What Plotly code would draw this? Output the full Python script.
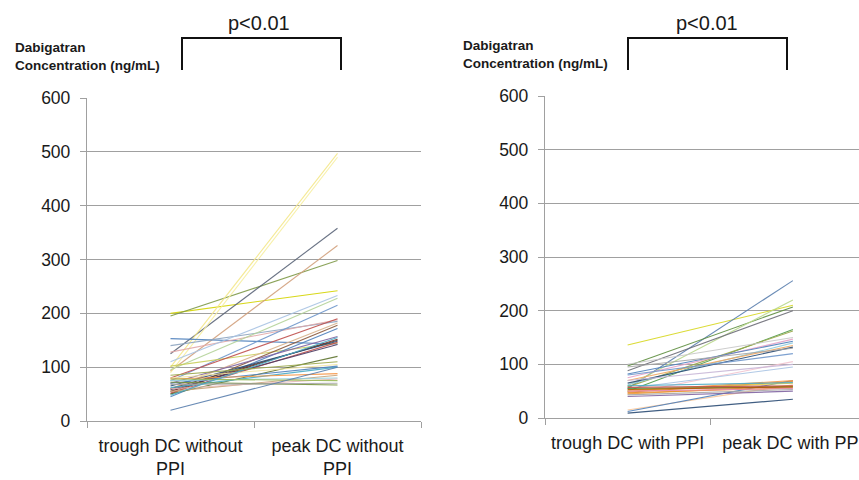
import plotly.graph_objects as go

# ---------------- data ----------------
cats_left = ["trough DC without<br>PPI", "peak DC without<br>PPI"]
cats_right = ["trough DC with PPI", "peak DC with PPI"]
y_ticks = [0, 100, 200, 300, 400, 500, 600]

trough_no_ppi = [200, 195, 125, 93, 100, 90, 153, 140, 128, 110, 95, 75, 102,
                 80, 60, 50, 45, 70, 55, 60, 65, 52, 58, 50, 80, 70, 62, 78,
                 55, 75, 60, 78, 72, 68, 20, 48, 85]
peak_no_ppi = [242, 298, 358, 326, 497, 490, 143, 185, 188, 233, 228, 215, 145,
               190, 182, 178, 172, 157, 152, 150, 148, 146, 142, 120, 105, 102,
               100, 88, 85, 80, 78, 75, 67, 70, 100, 155, 110]

trough_ppi = [136, 55, 97, 60, 88, 50, 58, 100, 75, 82, 62, 70, 65, 95, 80,
              45, 55, 15, 12, 9, 50, 48, 52, 45, 55, 47, 50, 43, 60, 40, 57,
              53, 70]
peak_ppi = [210, 256, 207, 220, 200, 165, 162, 150, 147, 143, 140, 135, 132,
            130, 120, 105, 95, 62, 70, 35, 70, 68, 65, 60, 58, 56, 55, 53, 66,
            50, 60, 58, 100]

# ---------------- styles ----------------
left_colors = ["#D4D400", "#7F9A48", "#5A6478", "#D2A07C", "#F5E88A", "#F7EFA0",
               "#4F81BD", "#8EA5C0", "#E2A8A8", "#A9C4E4", "#B4D39A", "#6F97CC",
               "#C9CF5A", "#C0504D", "#D9B38C", "#8B5A3C", "#4F81BD", "#8064A2",
               "#772C2A", "#5C4033", "#2C4D75", "#C0504D", "#4D3B62", "#5F7530",
               "#F2E6A0", "#4F81BD", "#4BACC6", "#F79646", "#C8A57A", "#93CDDD",
               "#E6B9B8", "#9BBB59", "#77933C", "#A6A6A6", "#5A7FAE", "#4BACC6",
               "#9BA84A"]
right_colors = ["#D8D820", "#5A7FAE", "#5F8F40", "#B8D88A", "#6E6E78", "#4E9A48",
                "#9BA84A", "#C8C8C8", "#E6A3C8", "#4F81BD", "#93CDDD", "#F2A860",
                "#2C4D75", "#A6A6A6", "#6F97CC", "#F2C4D0", "#A9C4E4", "#F9C89B",
                "#4F81BD", "#2C4D75", "#F79646", "#E38A2E", "#E6D04A", "#F2A040",
                "#4E9A48", "#E8922E", "#E88AB0", "#A6A6A6", "#4BACC6", "#8064A2",
                "#C0504D", "#B65708", "#C9B8D8"]

FONT = "Liberation Sans, Arial, sans-serif"
GRID = "#A0A0A0"
TXT = "#1A1A1A"

fig = go.Figure()

for t, p, c in zip(trough_no_ppi, peak_no_ppi, left_colors):
    fig.add_trace(go.Scatter(x=cats_left, y=[t, p], mode="lines",
                             line=dict(color=c, width=1.1), opacity=0.9,
                             xaxis="x", yaxis="y", showlegend=False,
                             hoverinfo="skip"))

for t, p, c in zip(trough_ppi, peak_ppi, right_colors):
    fig.add_trace(go.Scatter(x=cats_right, y=[t, p], mode="lines",
                             line=dict(color=c, width=1.1), opacity=0.9,
                             xaxis="x2", yaxis="y2", showlegend=False,
                             hoverinfo="skip"))

xcommon = dict(type="category", tickson="boundaries", ticks="outside",
               ticklen=6, tickcolor=GRID, showline=True, linecolor=GRID,
               linewidth=1.3, showgrid=False, zeroline=False, tickangle=0,
               automargin=False,
               tickfont=dict(family=FONT, size=18, color=TXT),
               ticklabelstandoff=8, fixedrange=True)
ycommon = dict(range=[0, 600], tickvals=y_ticks, showgrid=True,
               gridcolor=GRID, gridwidth=1.4, showline=True, linecolor=GRID,
               linewidth=1.3, ticks="outside", ticklen=6, tickcolor=GRID,
               zeroline=False, automargin=False,
               tickfont=dict(family=FONT, size=17.5, color=TXT),
               ticklabelstandoff=6, fixedrange=True)

fig.update_layout(
    width=859, height=480,
    margin=dict(l=0, r=0, t=0, b=0, autoexpand=False),
    paper_bgcolor="white", plot_bgcolor="white",
    xaxis=dict(xcommon, domain=[87 / 859, 421 / 859], anchor="y",
               categoryorder="array", categoryarray=cats_left,
               range=[-0.5, 1.5]),
    yaxis=dict(ycommon, domain=[(480 - 421) / 480, (480 - 98) / 480],
               anchor="x"),
    xaxis2=dict(xcommon, domain=[545 / 859, 1.0], anchor="y2",
                categoryorder="array", categoryarray=cats_right,
                range=[-0.5, 1.4]),
    yaxis2=dict(ycommon, domain=[(480 - 418) / 480, (480 - 96) / 480],
                anchor="x2"),
    showlegend=False,
)

# y-axis titles (top-left of each panel)
for xp, yp in [(13 / 859, (480 - 56) / 480), (461 / 859, (480 - 54) / 480)]:
    fig.add_annotation(xref="paper", yref="paper", x=xp, y=yp,
                       xanchor="left", yanchor="middle", align="left",
                       showarrow=False,
                       text="<b>Dabigatran<br>Concentration (ng/mL)</b>",
                       font=dict(family=FONT, size=13.5, color=TXT))

# significance brackets
for x1, x2, xc in [(182, 341, 259), (628, 787, 707)]:
    fig.add_shape(type="path", xref="paper", yref="paper",
                  path=(f"M {x1/859},{(480-70)/480} L {x1/859},{(480-38)/480} "
                        f"L {x2/859},{(480-38)/480} L {x2/859},{(480-70)/480}"),
                  line=dict(color="#111111", width=2))
    fig.add_annotation(xref="paper", yref="paper", x=xc / 859,
                       y=(480 - 23) / 480, xanchor="center", yanchor="middle",
                       showarrow=False, text="p<0.01",
                       font=dict(family=FONT, size=20, color=TXT))

fig.write_html("out.html")
